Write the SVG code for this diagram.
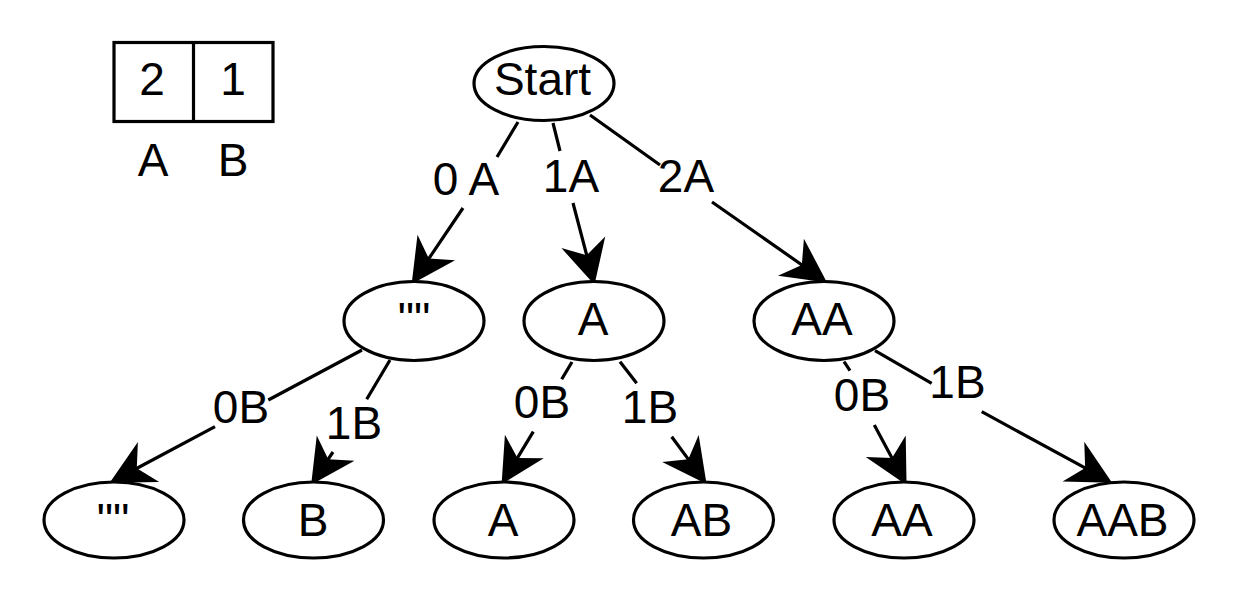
<svg xmlns="http://www.w3.org/2000/svg" width="1236" height="608" viewBox="0 0 1236 608">
<style>
.n{fill:#fff;stroke:#000;stroke-width:3.2}
.t{font-family:"Liberation Sans",Arial,sans-serif;font-size:46px;fill:#000;text-anchor:middle}
.e{fill:none;stroke:#000;stroke-width:3.2;marker-end:url(#ah)}
</style>
<defs>
<marker id="ah" markerUnits="userSpaceOnUse" orient="auto" refX="0" refY="0" markerWidth="60" markerHeight="60" viewBox="-20 -20 45 40" overflow="visible">
<path d="M-15,-17 L18,0 L-15,17 L-5,0 Z" fill="#000" stroke="none"/>
</marker>
</defs>
<rect width="1236" height="608" fill="#fff"/>
<g id="legend">
<rect x="114" y="42.5" width="159" height="79" fill="#fff" stroke="#000" stroke-width="3.2"/>
<line x1="193.5" y1="42.5" x2="193.5" y2="121.5" stroke="#000" stroke-width="3.2"/>
<text class="t" x="152" y="95">2</text>
<text class="t" x="233" y="95">1</text>
<text class="t" x="153" y="176">A</text>
<text class="t" x="233" y="176">B</text>
</g>
<g id="connectors">
<path class="e" d="M518,122 L497,157 M463,208 L425.1,264.1"/>
<text class="t" x="466" y="195">0 A</text>
<path class="e" d="M553,123 L560,151 M573,203 L588.4,261.6"/>
<text class="t" x="571" y="192">1A</text>
<path class="e" d="M590,115 L660,165 M712,202 L807.3,268.7"/>
<text class="t" x="686" y="192">2A</text>
<path class="e" d="M362,350 L268.3,400 M215,426.7 L130.9,471.5"/>
<text class="t" x="241" y="423">0B</text>
<path class="e" d="M390,360 L366.7,399.3 M333,452 L324.5,464.7"/>
<text class="t" x="354" y="439">1B</text>
<path class="e" d="M572,362 L561.7,379.3 M533.3,431.7 L514,463.7"/>
<text class="t" x="542" y="418">0B</text>
<path class="e" d="M620,361.7 L636.7,383.3 M671.7,436.7 L692.3,464.6"/>
<text class="t" x="650" y="423">1B</text>
<path class="e" d="M844,361.7 L850,370.7 M874.3,425 L895.2,463.9"/>
<text class="t" x="862" y="411">0B</text>
<path class="e" d="M875,350.7 L931.7,383.3 M981.7,411.7 L1091,471.2"/>
<text class="t" x="957.5" y="398">1B</text>
</g>
<g id="start"><ellipse class="n" cx="544" cy="83.5" rx="70" ry="37"/><text class="t" x="542.5" y="94.5">Start</text></g>
<g id="l2-empty"><ellipse class="n" cx="414" cy="321" rx="70" ry="39.5"/><text class="t" x="414" y="335">""</text></g>
<g id="l2-A"><ellipse class="n" cx="594" cy="321" rx="70" ry="39.5"/><text class="t" x="593" y="335">A</text></g>
<g id="l2-AA"><ellipse class="n" cx="824" cy="321" rx="70" ry="39.5"/><text class="t" x="822" y="335">AA</text></g>
<g id="l3-empty"><ellipse class="n" cx="114" cy="520" rx="70" ry="38"/><text class="t" x="113" y="535.5">""</text></g>
<g id="l3-B"><ellipse class="n" cx="313.5" cy="520" rx="70" ry="38"/><text class="t" x="313" y="535.5">B</text></g>
<g id="l3-A"><ellipse class="n" cx="504" cy="520" rx="70" ry="38"/><text class="t" x="503" y="535.5">A</text></g>
<g id="l3-AB"><ellipse class="n" cx="703.5" cy="520" rx="70" ry="38"/><text class="t" x="701.5" y="535.5">AB</text></g>
<g id="l3-AA"><ellipse class="n" cx="904" cy="520" rx="70" ry="38"/><text class="t" x="902" y="535.5">AA</text></g>
<g id="l3-AAB"><ellipse class="n" cx="1124" cy="520" rx="70" ry="38"/><text class="t" x="1122.5" y="535.5">AAB</text></g>
</svg>
